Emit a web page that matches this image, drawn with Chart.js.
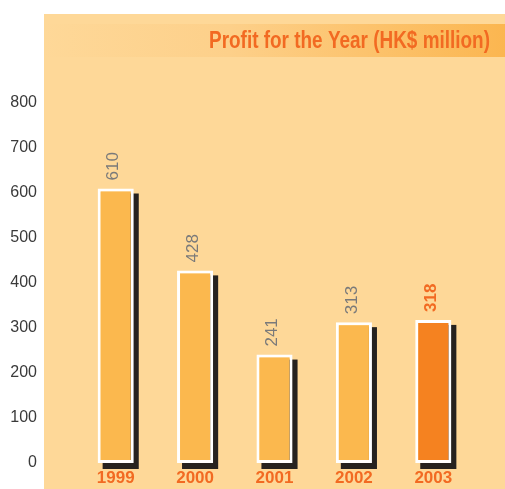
<!DOCTYPE html>
<html>
<head>
<meta charset="utf-8">
<script src="https://cdn.jsdelivr.net/npm/chart.js@4/dist/chart.umd.min.js"></script>
<style>
html,body{margin:0;padding:0;background:#ffffff;}
#wrap{width:505px;height:489px;}
</style>
</head>
<body>
<div id="wrap"><canvas id="c" width="505" height="489"></canvas></div>
<script>
const years = ['1999', '2000', '2001', '2002', '2003'];
const profit = [610, 428, 241, 313, 318];
const yTicks = [0, 100, 200, 300, 400, 500, 600, 700, 800];
const titleText = 'Profit for the Year (HK$ million)';

const ORANGE_TEXT = '#F26A22';
const BAR = '#FBB84E';
const BAR_HI = '#F58220';
const highlightIndex = years.length - 1;

const backgroundPlugin = {
  id: 'bgPanel',
  beforeDraw(chart) {
    const ctx = chart.ctx;
    ctx.save();
    ctx.fillStyle = '#ffffff';
    ctx.fillRect(0, 0, chart.width, chart.height);
    ctx.fillStyle = '#FED898';
    ctx.fillRect(44, 14, chart.width - 44, chart.height - 14);
    const g = ctx.createLinearGradient(44, 0, chart.width, 0);
    g.addColorStop(0, '#FED898');
    g.addColorStop(0.4, '#FDD08A');
    g.addColorStop(1, '#FBB650');
    ctx.fillStyle = g;
    ctx.fillRect(44, 24, chart.width - 44, 33);
    ctx.font = 'bold 23px "Liberation Sans", Arial, sans-serif';
    const w = ctx.measureText(titleText).width;
    const target = 281;
    ctx.translate(490, 48);
    ctx.scale(target / w, 1);
    ctx.fillStyle = ORANGE_TEXT;
    ctx.textAlign = 'right';
    ctx.textBaseline = 'alphabetic';
    ctx.fillText(titleText, 0, 0);
    ctx.restore();
  },
  beforeDatasetsDraw(chart) {
    const ctx = chart.ctx;
    const meta = chart.getDatasetMeta(0);
    ctx.save();
    ctx.fillStyle = '#26221F';
    meta.data.forEach((bar) => {
      const p = bar.getProps(['x', 'y', 'base', 'width'], true);
      const left = p.x - p.width / 2 + 5;
      ctx.fillRect(left, p.y + 5, p.width, p.base - p.y + 1);
    });
    ctx.restore();
  },
  afterDatasetsDraw(chart) {
    const ctx = chart.ctx;
    const meta = chart.getDatasetMeta(0);
    ctx.save();
    meta.data.forEach((bar, i) => {
      const p = bar.getProps(['x', 'y'], true);
      ctx.save();
      ctx.translate(p.x - 2, p.y - 8);
      ctx.rotate(-Math.PI / 2);
      ctx.textAlign = 'left';
      ctx.textBaseline = 'middle';
      if (i === highlightIndex) {
        ctx.fillStyle = ORANGE_TEXT;
        ctx.font = 'bold 17px "Liberation Sans", Arial, sans-serif';
      } else {
        ctx.fillStyle = '#7A7A7A';
        ctx.font = '17px "Liberation Sans", Arial, sans-serif';
      }
      ctx.fillText(String(profit[i]), 0, 0);
      ctx.restore();
    });
    ctx.restore();
  }
};

new Chart(document.getElementById('c'), {
  type: 'bar',
  data: {
    labels: years,
    datasets: [{
      data: profit,
      backgroundColor: profit.map((v, i) => i === highlightIndex ? BAR_HI : BAR),
      borderColor: '#ffffff',
      borderWidth: 3,
      borderSkipped: false,
      categoryPercentage: 1,
      barPercentage: 0.455
    }]
  },
  options: {
    responsive: false,
    animation: false,
    devicePixelRatio: 1,
    layout: { padding: { left: 10, top: 103, right: 32, bottom: 0 } },
    plugins: {
      legend: { display: false },
      tooltip: { enabled: false },
      title: { display: false }
    },
    scales: {
      x: {
        grid: { display: false, drawTicks: false },
        border: { display: false },
        ticks: {
          color: ORANGE_TEXT,
          padding: 5,
          font: { family: '"Liberation Sans", Arial, sans-serif', size: 17, weight: 'bold' }
        },
        afterFit(scale) { scale.height = 26; scale.paddingLeft = 0; scale.paddingRight = 0; }
      },
      y: {
        min: 0,
        max: 800,
        afterBuildTicks(scale) { scale.ticks = yTicks.map(v => ({ value: v })); },
        grid: { display: false, drawTicks: false },
        border: { display: false },
        ticks: {
          color: '#3A3A3A',
          padding: 39,
          font: { family: '"Liberation Sans", Arial, sans-serif', size: 16 }
        },
        afterFit(scale) { scale.width = 66; scale.paddingTop = 0; scale.paddingBottom = 0; }
      }
    }
  },
  plugins: [backgroundPlugin]
});
</script>
</body>
</html>
